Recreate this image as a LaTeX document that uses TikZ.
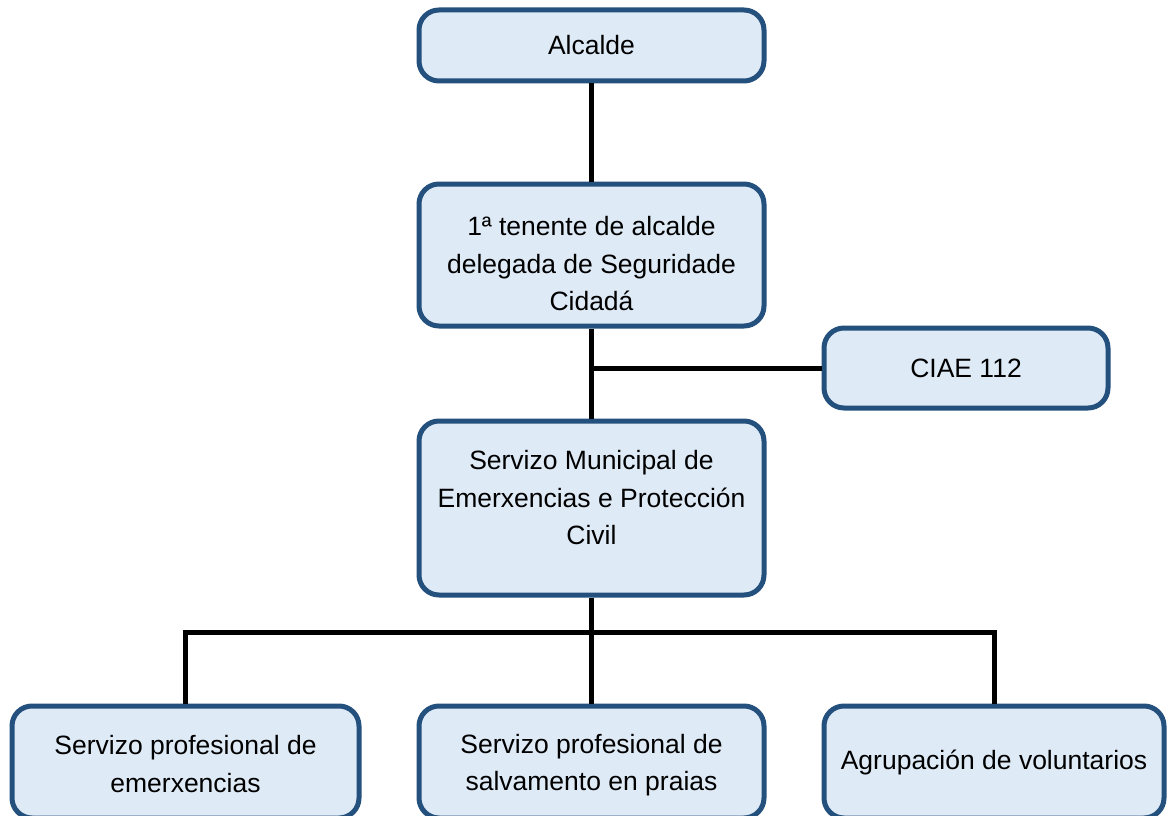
\documentclass[tikz,border=0pt]{standalone}
\usepackage{fontspec}
\setmainfont{Liberation Sans}
\definecolor{boxborder}{RGB}{35,80,124}
\definecolor{boxfill}{RGB}{222,234,246}
\begin{document}
\begin{tikzpicture}[x=1pt,y=-1pt,
  orgbox/.style={draw=boxborder,fill=boxfill,line width=5pt,rounded corners=20pt,
    rectangle,inner sep=0pt},
  orgtext/.style={align=center,inner sep=0pt,font=\fontsize{26.5}{37.5}\selectfont},
  conn/.style={draw=black,line width=5pt,line join=miter}]
\useasboundingbox (0,0) rectangle (1168,816);
\clip (0,0) rectangle (1168,816);
% boxes
\node[orgbox,minimum width=345pt,minimum height=71pt] (alc) at (591.5,45.5) {};
\node[orgbox,minimum width=345pt,minimum height=142pt] (ten) at (591.5,255) {};
\node[orgbox,minimum width=284pt,minimum height=80pt] (ciae) at (966,368) {};
\node[orgbox,minimum width=345pt,minimum height=174pt] (srv) at (591.5,508) {};
\node[orgbox,minimum width=347pt,minimum height=112pt] (bl) at (185.5,762) {};
\node[orgbox,minimum width=345pt,minimum height=112pt] (bm) at (591.5,762) {};
\node[orgbox,minimum width=340pt,minimum height=112pt] (br) at (994,762) {};
% texts
\node[orgtext] (talc) at (alc.center) {Alcalde};
\node[orgtext] (tten) at ([yshift=-9pt]ten.center) {1ª tenente de alcalde\\delegada de Seguridade\\Cidadá};
\node[orgtext] (tciae) at (ciae.center) {CIAE 112};
\node[orgtext] (tsrv) at ([yshift=10pt]srv.center) {Servizo Municipal de\\Emerxencias e Protección\\Civil};
\node[orgtext] (tbl) at ([yshift=-2pt]bl.center) {Servizo profesional de\\emerxencias};
\node[orgtext] (tbm) at ([yshift=-3pt]bm.center) {Servizo profesional de\\salvamento en praias};
\node[orgtext] (tbr) at (br.center) {Agrupación de voluntarios};
% connectors
\coordinate (bar) at (591.5,632);
\draw[conn] (alc.south) -- (ten.north);
\draw[conn] (ten.south) -- (srv.north);
\draw[conn] (ciae.west) -- (ciae.west -| ten.south);
\draw[conn] (srv.south) -- (bm.north);
\draw[conn] (bl.north) |- (bar) -| (br.north);
\end{tikzpicture}
\end{document}
